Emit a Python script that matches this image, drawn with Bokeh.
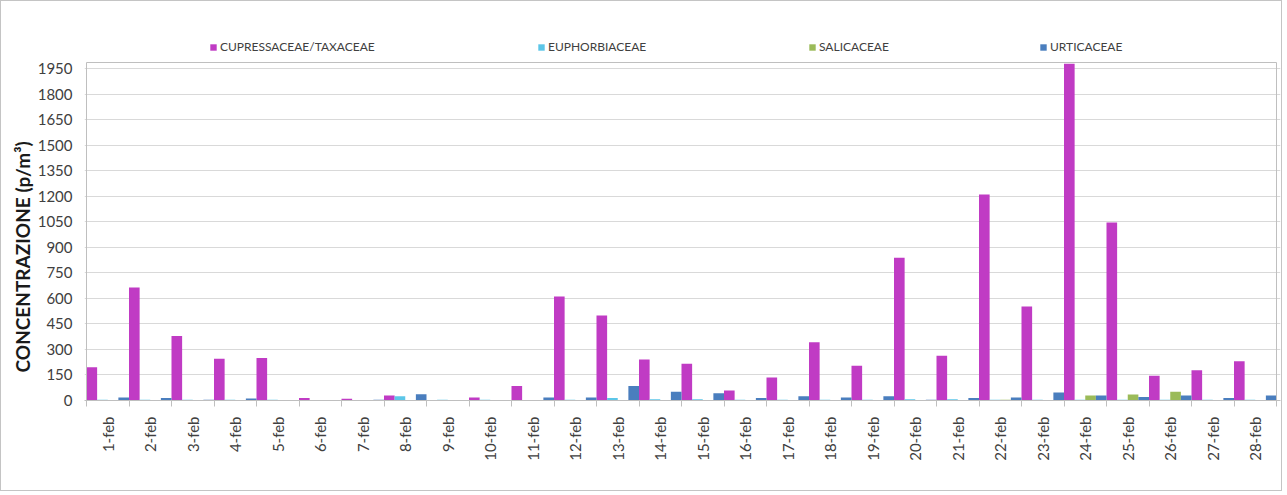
from math import pi

import numpy as np
from bokeh.plotting import figure
from bokeh.models import FixedTicker, Legend, LegendItem, Range1d, Title
from bokeh.embed import file_html
from bokeh.resources import INLINE

# Daily pollen concentrations, February (p/m³)
days = [f"{d}-feb" for d in range(1, 29)]
cupressaceae = [195, 665, 380, 245, 250, 15, 10, 30, 0, 18, 86, 612, 500, 241,
                216, 59, 136, 343, 204, 840, 263, 1211, 553, 1980, 1047, 145, 178, 231]
euphorbiaceae = [5, 5, 5, 5, 5, 0, 0, 25, 5, 5, 3, 4, 15, 8,
                 8, 5, 5, 5, 5, 8, 8, 5, 5, 5, 5, 5, 5, 5]
salicaceae = [0, 0, 0, 0, 0, 0, 0, 0, 0, 0, 0, 0, 0, 0,
              0, 0, 0, 0, 0, 0, 0, 5, 0, 30, 35, 51, 0, 0]
urticaceae = [18, 15, 5, 12, 0, 0, 5, 37, 0, 0, 18, 18, 86, 51,
              43, 14, 25, 18, 25, 5, 14, 18, 47, 30, 20, 30, 14, 30]

series_names = ["CUPRESSACEAE/TAXACEAE", "EUPHORBIACEAE", "SALICACEAE", "URTICACEAE"]
series_values = [cupressaceae, euphorbiaceae, salicaceae, urticaceae]
colors = ["#C03BC4", "#5CC6E8", "#9BBB59", "#4A7EBE"]
y_ticks = list(range(0, 1951, 150))
y_top = 1988          # upper edge of the value axis

FONT = "Lato"
TEXT = "#404040"
LINE = "#bfbfbf"

n = len(days)
# the canvas frame is a little larger than the value area: the legend row
# sits inside it above the top border, and the borders are drawn as lines
x_pad_l, x_pad_r = 2 / 42.5, 4 / 42.5
p = figure(width=1282, height=491,
           x_range=Range1d(-x_pad_l, n + x_pad_r),
           y_range=Range1d(0, y_top * 370 / 338),
           output_backend="svg", toolbar_location=None,
           min_border_left=83, min_border_right=3,
           min_border_top=29, min_border_bottom=92)
p.styles = {"border": "1px solid #c4c4c4"}
p.outline_line_color = None
p.background_fill_color = "white"
p.border_fill_color = "white"

# four bars per day, filling the whole category slot
bar_w = 1.0 / len(series_values)
idx = np.arange(n)
renderers = []
for k, (vals, col) in enumerate(zip(series_values, colors)):
    r = p.vbar(x=idx + bar_w * (k + 0.5), top=vals, width=bar_w,
               fill_color=col, line_color=None)
    renderers.append(r)

# plot-area border: left, top and right edges
p.segment(x0=[0, 0, n], y0=[0, y_top, 0], x1=[0, n, n], y1=[y_top, y_top, y_top],
          line_color=LINE, line_width=1)

# x axis: labels at slot centres, tick marks at slot boundaries
xa = p.xaxis[0]
xa.ticker = FixedTicker(ticks=[i + 0.5 for i in range(n)],
                        minor_ticks=list(range(n + 1)))
xa.major_label_overrides = {i + 0.5: d for i, d in enumerate(days)}
xa.major_label_orientation = pi / 2
xa.major_tick_line_color = None
xa.major_tick_out = 6
xa.major_tick_in = 0
xa.minor_tick_line_color = LINE
xa.minor_tick_out = 6
xa.minor_tick_in = 0
xa.major_label_standoff = 10
xa.axis_line_color = LINE
xa.major_label_text_font = FONT
xa.major_label_text_font_size = "15px"
xa.major_label_text_color = TEXT

ya = p.yaxis[0]
ya.ticker = FixedTicker(ticks=y_ticks)
ya.major_tick_line_color = None
ya.minor_tick_line_color = None
ya.major_tick_out = 0
ya.major_tick_in = 0
ya.major_label_standoff = 12
ya.axis_line_color = None
ya.major_label_text_font = FONT
ya.major_label_text_font_size = "15px"
ya.major_label_text_color = TEXT

p.xgrid.grid_line_color = None
p.ygrid.ticker = FixedTicker(ticks=y_ticks)
p.ygrid.grid_line_color = "#d9d9d9"

# y axis title, set a little below the middle of the plot area
p.add_layout(Title(text="CONCENTRAZIONE (p/m³)", align="left", offset=28,
                   standoff=2, text_font=FONT, text_font_style="bold",
                   text_font_size="19px", text_color="#1a1a1a"), "left")

# legend entries spread across the row above the plot area
legend_x = [125, 453, 724, 955]
for name, r, lx in zip(series_names, renderers, legend_x):
    leg = Legend(items=[LegendItem(label=name, renderers=[r])],
                 location=(lx, 346), orientation="horizontal",
                 background_fill_alpha=0, border_line_color=None,
                 padding=0, margin=0, spacing=0,
                 glyph_width=8, glyph_height=8, label_standoff=3,
                 label_height=12, label_text_font=FONT,
                 label_text_font_size="12px", label_text_color=TEXT)
    p.add_layout(leg)

open("out.html", "w").write(file_html(p, INLINE))
